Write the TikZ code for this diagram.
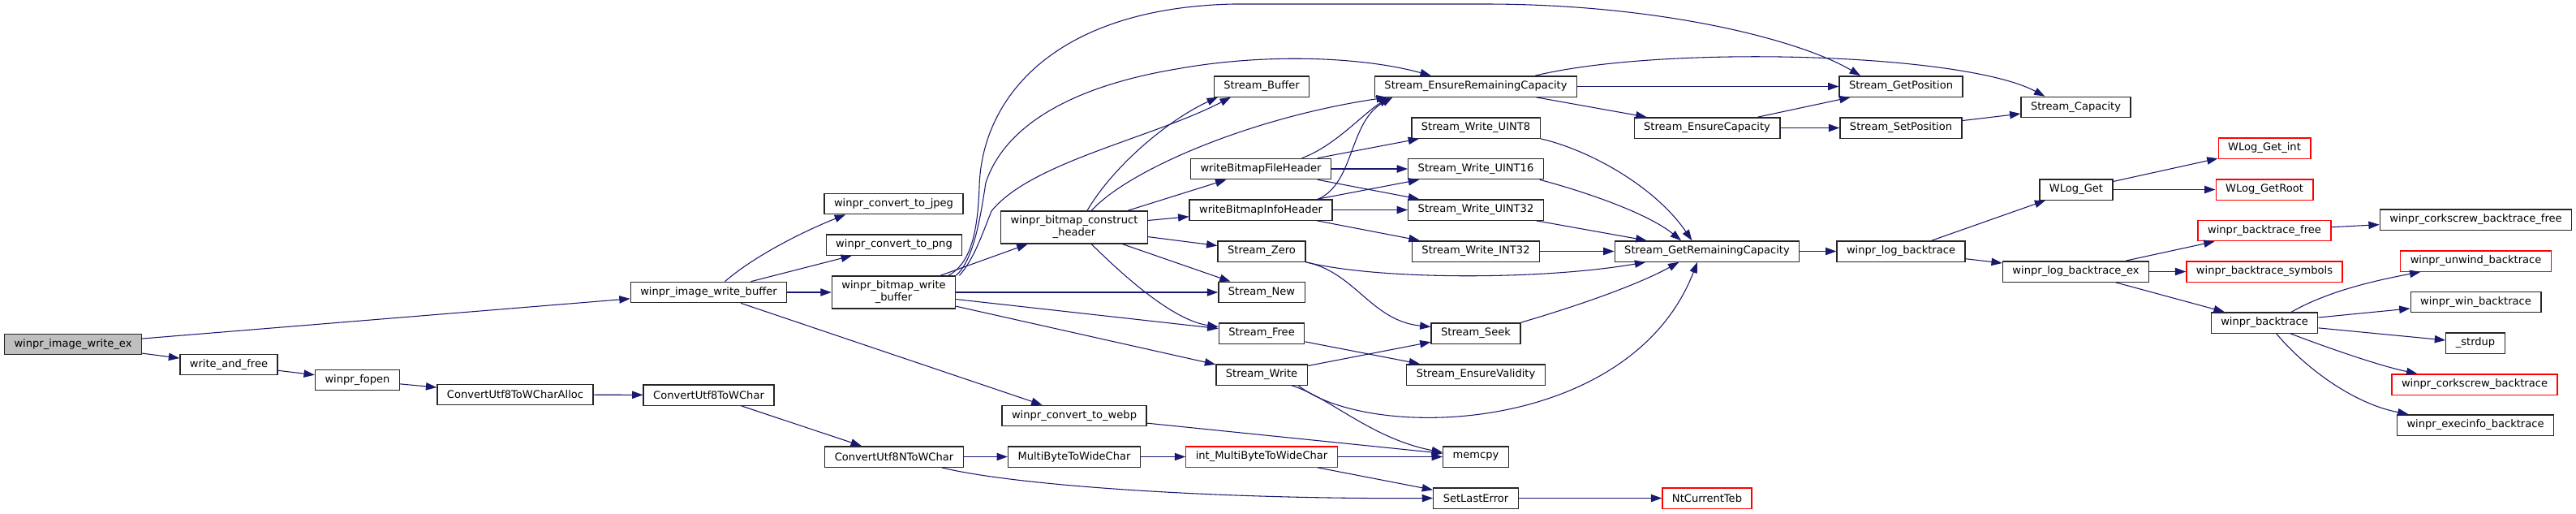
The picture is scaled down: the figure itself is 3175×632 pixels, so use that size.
\documentclass[tikz,border=0pt]{standalone}
\usepackage{fontspec}
\setmainfont{DejaVu Sans}
\usepackage{tikz}
\usetikzlibrary{arrows.meta}
\definecolor{callblue}{HTML}{191970}
\definecolor{rootgray}{HTML}{BFBFBF}
\definecolor{extred}{HTML}{FF0000}
\tikzset{
	fn/.style={draw=black!85,line width=1pt,fill=white,inner xsep=9pt,inner ysep=2pt,minimum height=19pt,font=\fontsize{9.8}{11.3}\selectfont},
	fnred/.style={fn,draw=extred},
	fnroot/.style={fn,fill=rootgray},
	fntwo/.style={fn,align=center,minimum height=30pt},
	call/.style={draw=callblue,line width=0.8pt,-{Triangle[length=10pt,width=7pt]}}
}

\begin{document}
\begin{tikzpicture}[x=0.75pt,y=-0.75pt]
	\useasboundingbox(0,0)rectangle(3175,632);
	\foreach \nm/\st/\xx/\yy/\txt in {
		iwex/fnroot/90/424/winpr\_image\_write\_ex,
		waf/fn/282/449/write\_and\_free,
		fopen/fn/440.5/468/winpr\_fopen,
		cwa/fn/635/486/ConvertUtf8ToWCharAlloc,
		iwb/fn/873.5/360/winpr\_image\_write\_buffer,
		cw/fn/873.5/486.5/ConvertUtf8ToWChar,
		jpeg/fn/1101.5/251/winpr\_convert\_to\_jpeg,
		png/fn/1102/301.5/winpr\_convert\_to\_png,
		cnw/fn/1102/562.5/ConvertUtf8NToWChar,
		webp/fn/1324/512/winpr\_convert\_to\_webp,
		mbwc/fn/1324/562.5/MultiByteToWideChar,
		sbuf/fn/1555/106.5/Stream\_Buffer,
		wbfh/fn/1554/208/writeBitmapFileHeader,
		wbih/fn/1554/258.5/writeBitmapInfoHeader,
		szero/fn/1555/309.5/Stream\_Zero,
		snew/fn/1555/360/Stream\_New,
		sfree/fn/1555/410.5/Stream\_Free,
		swrite/fn/1555/461.5/Stream\_Write,
		imbwc/fnred/1555/562.5/int\_MultiByteToWideChar,
		erc/fn/1819/106.5/Stream\_EnsureRemainingCapacity,
		u8/fn/1819/157.5/Stream\_Write\_UINT8,
		u16/fn/1819/208/Stream\_Write\_UINT16,
		u32/fn/1819/258.5/Stream\_Write\_UINT32,
		i32/fn/1819/309.5/Stream\_Write\_INT32,
		seek/fn/1819/410.5/Stream\_Seek,
		valid/fn/1819/461.5/Stream\_EnsureValidity,
		mcpy/fn/1819/562.5/memcpy,
		sle/fn/1819/613.5/SetLastError,
		ecap/fn/2104/157.5/Stream\_EnsureCapacity,
		grc/fn/2104/309.5/Stream\_GetRemainingCapacity,
		teb/fnred/2104/613.5/NtCurrentTeb,
		gpos/fn/2343/106.5/Stream\_GetPosition,
		spos/fn/2343/157.5/Stream\_SetPosition,
		lbt/fn/2343/309.5/winpr\_log\_backtrace,
		scap/fn/2558.5/132/Stream\_Capacity,
		wget/fn/2559/233.5/WLog\_Get,
		lbtex/fn/2558.5/334.5/winpr\_log\_backtrace\_ex,
		wgint/fnred/2791/182.5/WLog\_Get\_int,
		wgroot/fnred/2791/233.5/WLog\_GetRoot,
		btfree/fnred/2791/284/winpr\_backtrace\_free,
		btsym/fnred/2791/334.5/winpr\_backtrace\_symbols,
		bt/fn/2791/397.5/winpr\_backtrace,
		ckfree/fn/3051.5/270.5/winpr\_corkscrew\_backtrace\_free,
		unw/fnred/3051.5/321.5/winpr\_unwind\_backtrace,
		winbt/fn/3051.5/372/winpr\_win\_backtrace,
		sdup/fn/3051/422.5/\_strdup,
		ckbt/fnred/3050/473.5/winpr\_corkscrew\_backtrace,
		exbt/fn/3051/523.5/winpr\_execinfo\_backtrace}{
		\node[\st](\nm) at (\xx,\yy){\txt};
	}
	\node[fntwo](bwb) at (1101.5,360){winpr\_bitmap\_write\\\_buffer};
	\node[fntwo](bch) at (1324,280){winpr\_bitmap\_construct\\\_header};
	
	\foreach \a/\b in {iwex/iwb,iwex/waf,waf/fopen,fopen/cwa,cwa/cw,cw/cnw,cnw/mbwc,mbwc/imbwc,imbwc/mcpy,imbwc/sle,sle/teb,
		iwb/png,iwb/bwb,iwb/webp,webp/mcpy,bwb/bch,bwb/snew,bwb/sfree,bwb/swrite,
		bch/wbfh,bch/wbih,bch/szero,bch/snew,wbfh/u8,wbfh/u16,wbfh/u32,wbih/u16,wbih/u32,wbih/i32,
		u32/grc,i32/grc,swrite/seek,sfree/valid,erc/gpos,erc/ecap,ecap/gpos,ecap/spos,spos/scap,
		grc/lbt,lbt/wget,lbt/lbtex,wget/wgint,wget/wgroot,lbtex/btfree,lbtex/btsym,lbtex/bt,btfree/ckfree,
		bt/winbt,bt/sdup}{
		\draw[call](\a)--(\b);
	}
	
	\draw[call]([xshift=15pt]iwb.north)..controls(930,315)and(990,285)..([xshift=20pt]jpeg.south west);
	\draw[call]([xshift=44pt]cnw.south)..controls(1250,598)and(1500,615)..(sle.west);
	\draw[call]([xshift=-7pt]bwb.north east)..controls(1195,325)and(1205,290)..(1207,230)..controls(1210,120)and(1300,10)..(1520,5)--(1830,5)..controls(2050,5)and(2220,50)..([xshift=20pt]gpos.north west);
	\draw[call](bwb.north east)..controls(1200,320)and(1208,270)..(1215,225)..controls(1240,150)and(1330,105)..(1450,85)..controls(1560,65)and(1680,70)..([xshift=52.5pt]erc.north west);
	\draw[call]([xshift=3pt]bwb.north east)..controls(1200,320)and(1210,290)..(1222,260)..controls(1270,200)and(1420,170)..([xshift=16pt]sbuf.south west);
	\draw[call]([xshift=12pt]bch.north)..controls(1375,200)and(1445,145)..([xshift=4pt]sbuf.south west);
	\draw[call]([xshift=16pt]bch.north)..controls(1390,210)and(1540,145)..([xshift=12pt]erc.south west);
	\draw[call]([xshift=38pt]wbfh.north)..controls(1645,180)and(1680,140)..([xshift=14pt]erc.south west);
	\draw[call]([xshift=53pt]wbih.north)..controls(1670,225)and(1662,150)..([xshift=17pt]erc.south west);
	\draw[call]([xshift=16pt]bch.south)..controls(1395,350)and(1450,395)..([yshift=6pt]sfree.west);
	\draw[call]([xshift=28pt]swrite.south)..controls(1640,490)and(1690,540)..([yshift=4pt]mcpy.west);
	\draw[call]([xshift=34pt]swrite.south)..controls(1690,545)and(2010,535)..([xshift=-9pt]grc.south);
	\draw[call](szero.south east)..controls(1670,335)and(1690,395)..([yshift=6pt]seek.west);
	\draw[call](szero.south east)..controls(1700,345)and(1900,345)..([xshift=29pt]grc.south west);
	\draw[call](seek.north east)..controls(1950,375)and(2020,350)..([xshift=-26pt]grc.south);
	\draw[call]([xshift=-4pt]u16.south east)..controls(1950,235)and(2030,262)..([xshift=-24pt]grc.north);
	\draw[call](u8.south east)..controls(1960,185)and(2040,230)..([xshift=-14pt]grc.north);
	\draw[call]([xshift=-39pt]erc.north east)..controls(2050,55)and(2420,65)..([xshift=22.5pt]scap.north west);
	\draw[call]([xshift=25pt]bt.north)..controls(2870,358)and(2930,345)..([xshift=19pt]unw.south west);
	\draw[call]([xshift=24pt]bt.south)..controls(2860,425)and(2930,450)..([xshift=24pt]ckbt.north west);
	\draw[call]([xshift=11pt]bt.south)..controls(2840,452)and(2900,497)..([xshift=11pt]exbt.north west);
\end{tikzpicture}
\end{document}
